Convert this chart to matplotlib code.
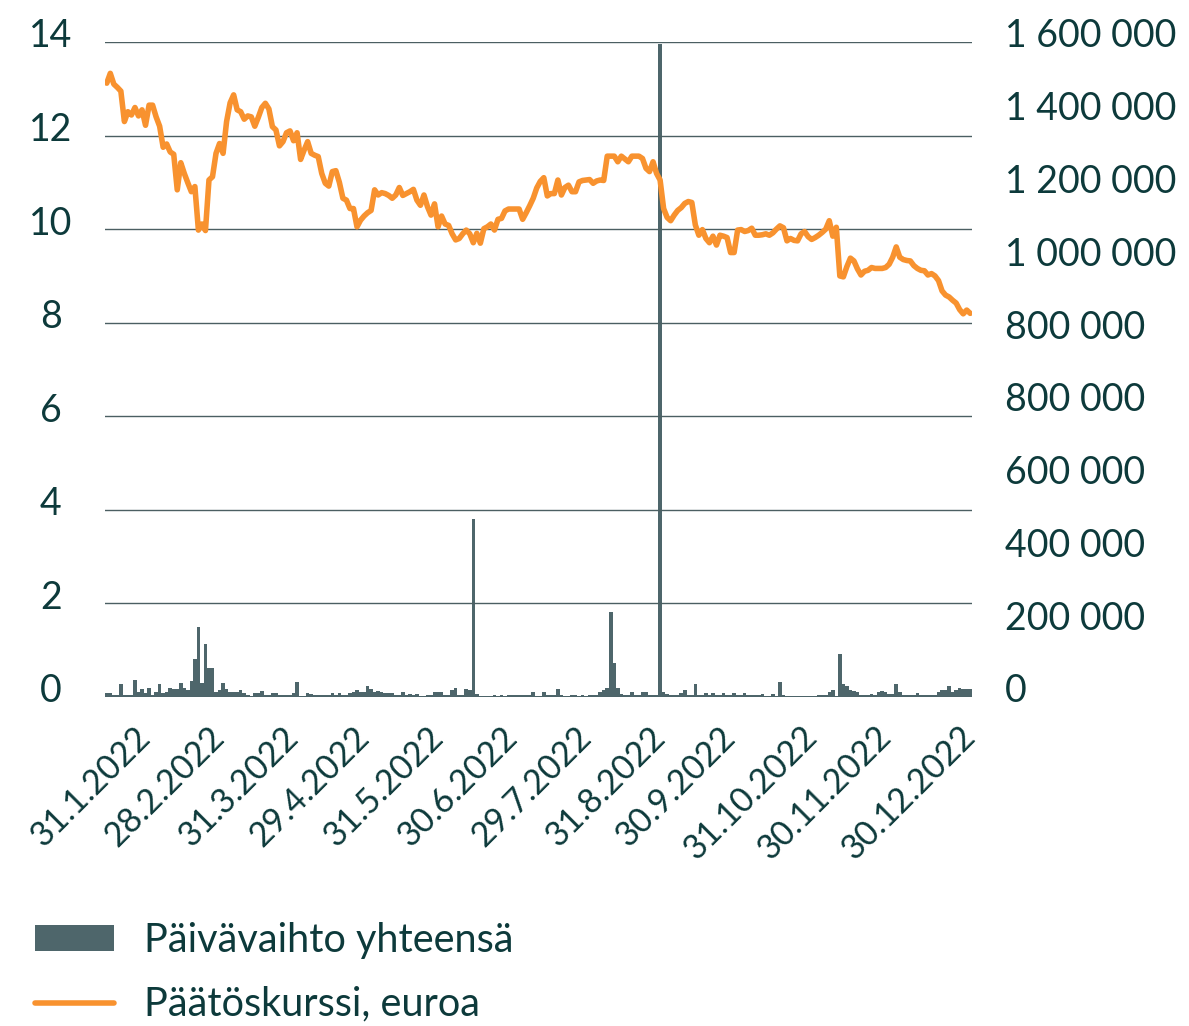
import matplotlib.pyplot as plt
import matplotlib.transforms as mtransforms
from matplotlib.patches import Patch
from matplotlib.lines import Line2D

# Päätöskurssi (closing price, EUR), one value per trading day, mid Jan - 30.12.2022
price = [
    13.12, 13.33, 13.10, 13.03, 12.95, 12.30, 12.51, 12.44, 12.60, 12.42,
    12.55, 12.22, 12.65, 12.65, 12.40, 12.20, 11.75, 11.82, 11.65, 11.60,
    10.84, 11.42, 11.19, 10.99, 10.80, 10.91, 9.98, 10.11, 9.97, 11.05,
    11.12, 11.62, 11.83, 11.62, 12.30, 12.70, 12.87, 12.55, 12.51, 12.35,
    12.42, 12.40, 12.20, 12.39, 12.60, 12.69, 12.57, 12.19, 12.12, 11.78,
    11.87, 12.06, 12.10, 11.89, 12.06, 11.49, 11.69, 11.87, 11.62, 11.58,
    11.55, 11.19, 10.98, 10.92, 11.23, 11.25, 11.00, 10.66, 10.62, 10.44,
    10.44, 10.05, 10.19, 10.28, 10.35, 10.40, 10.84, 10.73, 10.78, 10.76,
    10.72, 10.66, 10.73, 10.89, 10.72, 10.76, 10.80, 10.85, 10.62, 10.51,
    10.73, 10.48, 10.30, 10.54, 10.05, 10.28, 10.11, 10.08, 9.90, 9.77,
    9.80, 9.90, 9.98, 9.90, 9.71, 9.91, 9.70, 10.01, 10.05, 10.11,
    9.98, 10.21, 10.23, 10.39, 10.43, 10.43, 10.43, 10.43, 10.21, 10.35,
    10.50, 10.66, 10.88, 11.02, 11.10, 10.71, 10.76, 10.76, 11.05, 10.73,
    10.89, 10.94, 10.80, 10.80, 11.01, 11.04, 11.05, 11.06, 10.98, 11.03,
    11.05, 11.04, 11.56, 11.56, 11.56, 11.44, 11.56, 11.50, 11.44, 11.56,
    11.56, 11.56, 11.51, 11.30, 11.23, 11.44, 11.19, 11.05, 10.44, 10.25,
    10.18, 10.30, 10.40, 10.46, 10.55, 10.59, 10.57, 10.09, 9.87, 9.99,
    9.80, 9.71, 9.85, 9.66, 9.87, 9.85, 9.82, 9.50, 9.50, 9.98,
    9.99, 9.95, 9.97, 10.02, 9.87, 9.87, 9.88, 9.90, 9.87, 9.92,
    10.00, 10.07, 10.03, 9.75, 9.80, 9.76, 9.75, 9.90, 9.95, 9.84,
    9.78, 9.82, 9.87, 9.93, 10.00, 10.18, 9.85, 10.04, 9.00, 8.98,
    9.20, 9.38, 9.32, 9.15, 9.02, 9.10, 9.12, 9.18, 9.16, 9.16,
    9.16, 9.18, 9.25, 9.40, 9.62, 9.40, 9.35, 9.33, 9.32, 9.22,
    9.16, 9.12, 9.11, 9.02, 9.05, 9.00, 8.90, 8.68, 8.59, 8.55,
    8.48, 8.42, 8.28, 8.19, 8.27, 8.20,
]

# Päivävaihto yhteensä (daily turnover), thousands
turnover_k = [
    10, 10, 5, 4, 31, 5, 5, 5, 41, 13,
    19, 9, 21, 6, 13, 31, 9, 11, 21, 20,
    20, 35, 21, 17, 38, 92, 170, 33, 129, 70,
    70, 11, 16, 33, 19, 13, 11, 11, 16, 9,
    6, 3, 9, 9, 14, 5, 5, 9, 9, 6,
    6, 5, 5, 9, 36, 3, 3, 9, 8, 6,
    5, 6, 5, 5, 9, 6, 9, 6, 6, 9,
    11, 16, 11, 11, 26, 20, 11, 14, 13, 9,
    9, 9, 5, 5, 13, 5, 8, 5, 8, 3,
    3, 5, 5, 13, 13, 13, 5, 5, 16, 21,
    6, 5, 20, 16, 435, 7, 3, 3, 3, 3,
    6, 3, 6, 3, 5, 5, 5, 5, 5, 5,
    5, 13, 3, 3, 11, 5, 5, 5, 19, 6,
    3, 3, 5, 5, 3, 5, 3, 6, 6, 5,
    13, 16, 21, 207, 82, 21, 7, 5, 5, 11,
    5, 5, 11, 11, 5, 5, 6, 1595, 11, 7,
    5, 5, 5, 9, 16, 5, 5, 31, 5, 5,
    9, 5, 9, 5, 5, 9, 5, 5, 9, 5,
    5, 9, 5, 5, 5, 5, 8, 3, 3, 7,
    3, 36, 5, 3, 2, 2, 2, 2, 2, 2,
    2, 2, 5, 5, 5, 11, 16, 3, 104, 31,
    28, 16, 14, 11, 6, 6, 5, 8, 5, 11,
    14, 11, 7, 7, 31, 11, 5, 5, 5, 5,
    9, 5, 5, 4, 5, 6, 11, 16, 16, 28,
    11, 16, 21, 20, 20, 20,
]
turnover = [v * 1000 for v in turnover_k]

date_labels = ['31.1.2022', '28.2.2022', '31.3.2022', '29.4.2022', '31.5.2022',
               '30.6.2022', '29.7.2022', '31.8.2022', '30.9.2022', '31.10.2022',
               '30.11.2022', '30.12.2022']
date_label_days = [11, 32, 53, 73, 94, 115, 136, 157, 177, 200, 221, 245]

price_ticks = [0, 2, 4, 6, 8, 10, 12, 14]
turnover_labels = ['0', '200 000', '400 000', '600 000', '800 000', '800 000',
                   '1 000 000', '1 200 000', '1 400 000', '1 600 000']

orange = '#F8922F'
slate = '#4E666B'
grid_c = '#4B5F62'
text_c = '#0D3A3B'
fs = 27

plt.rcParams['font.family'] = ['Lato', 'DejaVu Sans']

fig = plt.figure(figsize=(11.89, 10.26), dpi=100)
ax = fig.add_axes([105 / 1189, 1 - 697 / 1026, 867 / 1189, 655 / 1026])
ax2 = ax.twinx()
ax2.set_zorder(ax.get_zorder() - 1)
ax.patch.set_visible(False)

days = list(range(len(price)))
ax2.bar(days, turnover, width=1.0, color=slate, linewidth=0)
ax.plot(days, price, color=orange, lw=4.0, solid_capstyle='round', solid_joinstyle='round')

ax.set_xlim(-0.5, len(price) - 0.5)
ax.set_ylim(0, 14)
ax2.set_ylim(0, 1.6e6)

ax.set_yticks(price_ticks)
ax.grid(axis='y', color=grid_c, lw=1.0)
ax.grid(axis='x', visible=False)
ax.tick_params(axis='y', length=0, pad=39, labelsize=fs, labelcolor=text_c)
for lab in ax.get_yticklabels():
    lab.set_ha('center')

ax2.set_yticks([i * 1.6e6 / 9 for i in range(10)], turnover_labels)
ax2.tick_params(axis='y', length=0, pad=24, labelsize=fs, labelcolor=text_c)

ax.set_xticks(date_label_days, date_labels)
ax.tick_params(axis='x', length=0, pad=25, labelsize=24.5, labelcolor=text_c)
for lab in ax.get_xticklabels():
    lab.set_rotation(45)
    lab.set_ha('right')
    lab.set_va('center')
    lab.set_rotation_mode('anchor')

# labels sit a bit above their gridlines
up = mtransforms.ScaledTranslation(0, 9 / 100, fig.dpi_scale_trans)
for lab in ax.get_yticklabels() + ax2.get_yticklabels():
    lab.set_transform(lab.get_transform() + up)

for a in (ax, ax2):
    for s in a.spines.values():
        s.set_visible(False)

handles = [Patch(color=slate, linewidth=0),
           Line2D([], [], color=orange, lw=4.0, solid_capstyle='round')]
fig.legend(handles, ['Päivävaihto yhteensä', 'Päätöskurssi, euroa'],
           loc='upper left', bbox_to_anchor=(35 / 1189, 1 - 922 / 1026),
           frameon=False, fontsize=28.5, labelcolor=text_c,
           handlelength=2.0, handleheight=0.6, handletextpad=0.75,
           labelspacing=0.68, borderpad=0, borderaxespad=0)

fig.savefig('out.png', dpi=100)
